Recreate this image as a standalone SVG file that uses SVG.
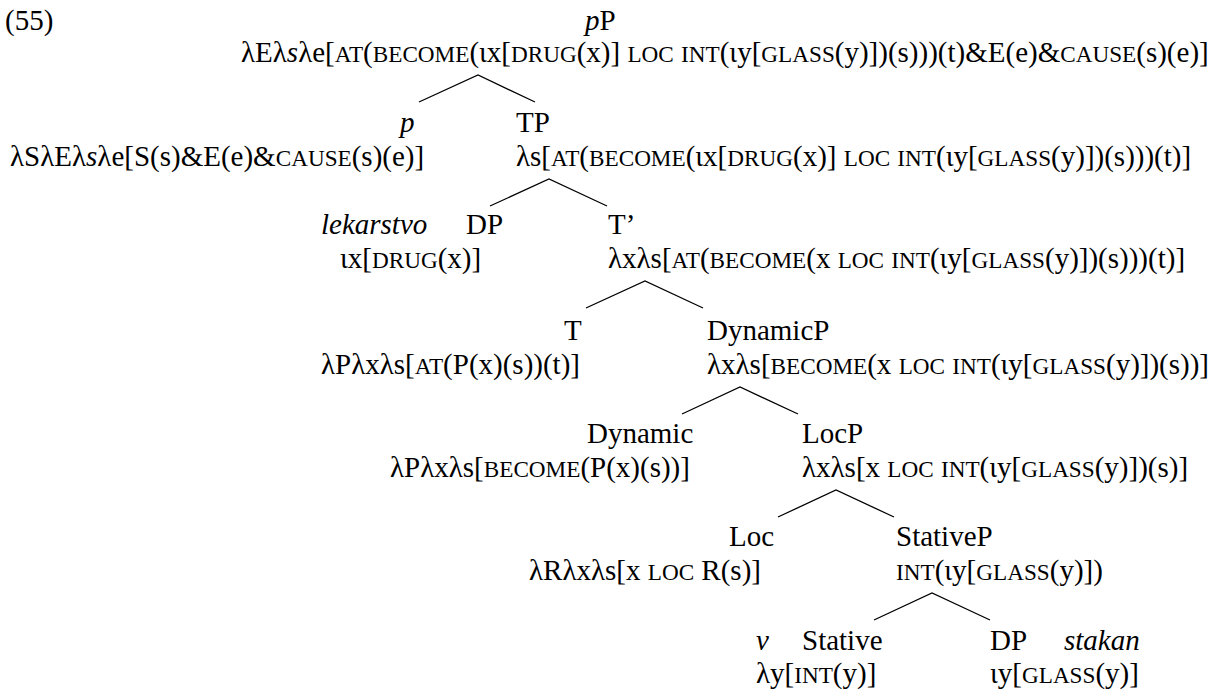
<svg xmlns="http://www.w3.org/2000/svg" width="1230" height="696" viewBox="0 0 1230 696">
<style>
text { font-family: "Liberation Serif", "Times New Roman", serif; font-size: 29px; fill: #000; }
.sc { font-size: 23.2px; }
.i { font-style: italic; }
.edge { stroke: #000; stroke-width: 1.3; fill: none; }
</style>
<rect width="1230" height="696" fill="#fff"/>
<text x="5" y="30">(55)</text>
<g id="pP">
<text x="585" y="30"><tspan class="i">p</tspan>P</text>
<text x="241" y="62">λEλ<tspan class="i">s</tspan>λe[<tspan class="sc">AT</tspan>(<tspan class="sc">BECOME</tspan>(ιx[<tspan class="sc">DRUG</tspan>(x)] <tspan class="sc">LOC</tspan> <tspan class="sc">INT</tspan>(ιy[<tspan class="sc">GLASS</tspan>(y)])(s)))(t)&amp;E(e)&amp;<tspan class="sc">CAUSE</tspan>(s)(e)]</text>
</g>
<g id="p">
<text x="400" y="132" class="i">p</text>
<text x="10" y="166">λSλEλ<tspan class="i">s</tspan>λe[S(s)&amp;E(e)&amp;<tspan class="sc">CAUSE</tspan>(s)(e)]</text>
</g>
<g id="TP">
<text x="516" y="132">TP</text>
<text x="516" y="166">λs[<tspan class="sc">AT</tspan>(<tspan class="sc">BECOME</tspan>(ιx[<tspan class="sc">DRUG</tspan>(x)] <tspan class="sc">LOC</tspan> <tspan class="sc">INT</tspan>(ιy[<tspan class="sc">GLASS</tspan>(y)])(s)))(t)]</text>
</g>
<g id="DP1">
<text x="321" y="234" class="i">lekarstvo</text>
<text x="466" y="234">DP</text>
<text x="340" y="268">ιx[<tspan class="sc">DRUG</tspan>(x)]</text>
</g>
<g id="Tbar">
<text x="608" y="234">T’</text>
<text x="608" y="268">λxλs[<tspan class="sc">AT</tspan>(<tspan class="sc">BECOME</tspan>(x <tspan class="sc">LOC</tspan> <tspan class="sc">INT</tspan>(ιy[<tspan class="sc">GLASS</tspan>(y)])(s)))(t)]</text>
</g>
<g id="T">
<text x="564" y="340">T</text>
<text x="321" y="374">λPλxλs[<tspan class="sc">AT</tspan>(P(x)(s))(t)]</text>
</g>
<g id="DynamicP">
<text x="707" y="340">DynamicP</text>
<text x="707" y="374">λxλs[<tspan class="sc">BECOME</tspan>(x <tspan class="sc">LOC</tspan> <tspan class="sc">INT</tspan>(ιy[<tspan class="sc">GLASS</tspan>(y)])(s))]</text>
</g>
<g id="Dynamic">
<text x="587" y="443">Dynamic</text>
<text x="390" y="477">λPλxλs[<tspan class="sc">BECOME</tspan>(P(x)(s))]</text>
</g>
<g id="LocP">
<text x="802" y="443">LocP</text>
<text x="802" y="477">λxλs[x <tspan class="sc">LOC</tspan> <tspan class="sc">INT</tspan>(ιy[<tspan class="sc">GLASS</tspan>(y)])(s)]</text>
</g>
<g id="Loc">
<text x="729" y="546">Loc</text>
<text x="529" y="580">λRλxλs[x <tspan class="sc">LOC</tspan> R(s)]</text>
</g>
<g id="StativeP">
<text x="896" y="546">StativeP</text>
<text x="896" y="580"><tspan class="sc">INT</tspan>(ιy[<tspan class="sc">GLASS</tspan>(y)])</text>
</g>
<g id="Stative">
<text x="756" y="650" class="i">v</text>
<text x="802" y="650">Stative</text>
<text x="756" y="683">λy[<tspan class="sc">INT</tspan>(y)]</text>
</g>
<g id="DP2">
<text x="990" y="650">DP</text>
<text x="1064" y="650" class="i">stakan</text>
<text x="990" y="683">ιy[<tspan class="sc">GLASS</tspan>(y)]</text>
</g>
<g id="connectors">
<polyline class="edge" points="419,102 478,75 535,102"/>
<polyline class="edge" points="490,206 549,179 607,206"/>
<polyline class="edge" points="586,308 645,281 703,308"/>
<polyline class="edge" points="682,414 740,387 798,414"/>
<polyline class="edge" points="778,517 836,490 894,517"/>
<polyline class="edge" points="874,620 932,593 990,620"/>
</g>
</svg>
